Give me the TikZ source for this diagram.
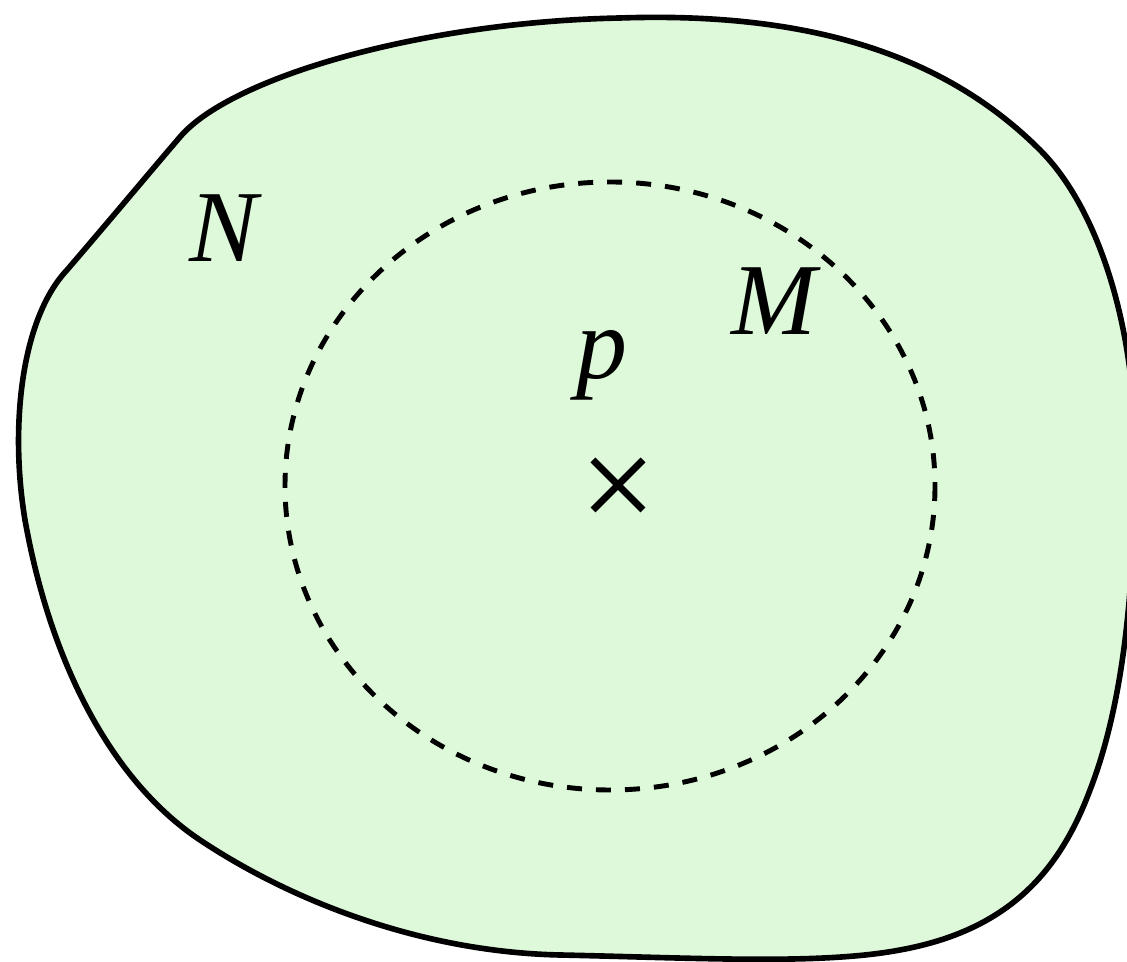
\documentclass[tikz,border=0pt]{standalone}
\usepackage{fontspec}
\setmainfont{Liberation Serif}
\newfontfamily\lblfont{Liberation Serif Italic}
\usepackage{tikz}
\usetikzlibrary{positioning, calc}

\definecolor{nbhdgreen}{RGB}{222,249,218}

\begin{document}
\begin{tikzpicture}[
  x=0.01cm, y=-0.01cm,
  region/.style = {draw, line width=1.6pt, fill=nbhdgreen},
  ball/.style   = {draw, line width=1.4pt, dash pattern=on 0.15cm off 0.14cm},
  lbl/.style    = {font=\lblfont\fontsize{29}{35}\selectfont, inner sep=0pt, anchor=base},
  crossmark/.style = {line width=2pt},
]
  \useasboundingbox (0,0) rectangle (1127,962);

  % the open set N
  \draw[region] (67,270) .. controls (110,220) and (150,172) .. (180,137)
    .. controls (230,78) and (420,22) .. (620,18)
    .. controls (800,12) and (940,50) .. (1040,150)
    .. controls (1100,210) and (1135,330) .. (1135,450)
    .. controls (1135,580) and (1125,700) .. (1090,790)
    .. controls (1060,870) and (1010,930) .. (900,950)
    .. controls (820,965) and (700,958) .. (560,955)
    .. controls (420,952) and (290,900) .. (200,840)
    .. controls (110,780) and (50,660) .. (25,520)
    .. controls (10,430) and (20,320) .. (67,270) -- cycle;

  % the ball M round p
  \coordinate (p0) at (610,486);
  \draw[ball] (p0) ellipse [x radius=325, y radius=304];

  % the point p
  \coordinate (pt) at (618,485);
  \draw[crossmark] ($(pt)+(-25,-25)$) -- ($(pt)+(25,25)$);
  \draw[crossmark] ($(pt)+(-25,25)$) -- ($(pt)+(25,-25)$);

  \node[lbl] (labelN) at (224,262) {N};
  \node[lbl] (labelM) at (774,335) {M};
  \node[lbl] (labelp) at (602,379) {p};
\end{tikzpicture}
\end{document}
